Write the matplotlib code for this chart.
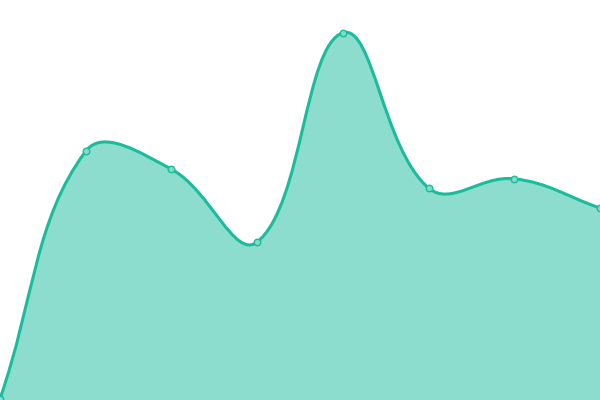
import numpy as np
import matplotlib
matplotlib.use("Agg")
import matplotlib.pyplot as plt
from matplotlib.path import Path
from matplotlib.patches import PathPatch

# data
labels = ["A", "B", "C", "D", "E", "F", "G", "H"]
values = [0.3, 62.2, 57.7, 39.5, 91.8, 53.0, 55.3, 48.0]

line_color = "#1abc9c"
fill_color = (26 / 255, 188 / 255, 156 / 255, 0.5)
tension = 0.4


def spline_controls(pts, t):
    # chart.js style cardinal spline control points (in pixels)
    n = len(pts)
    prev_c = []
    next_c = []
    for i in range(n):
        cur = pts[i]
        prv = pts[i - 1] if i > 0 else cur
        nxt = pts[i + 1] if i < n - 1 else cur
        d01 = np.hypot(*(cur - prv))
        d12 = np.hypot(*(nxt - cur))
        tot = d01 + d12
        s01 = d01 / tot if tot else 0
        s12 = d12 / tot if tot else 0
        fa = t * s01
        fb = t * s12
        prev_c.append(cur - fa * (nxt - prv))
        next_c.append(cur + fb * (nxt - prv))
    return prev_c, next_c


fig = plt.figure(figsize=(6, 4), dpi=100)
ax = fig.add_axes([0, 0, 1, 1])
x = np.arange(len(values))
ax.set_xlim(0, len(values) - 1)
ax.set_ylim(0, 100)
ax.axis("off")

pix = ax.transData.transform(np.column_stack([x, values]))
pc, nc = spline_controls(pix, tension)
# keep control points inside the chart area
bbox = ax.bbox
pc = [np.clip(p, [bbox.x0, bbox.y0], [bbox.x1, bbox.y1]) for p in pc]
nc = [np.clip(p, [bbox.x0, bbox.y0], [bbox.x1, bbox.y1]) for p in nc]

verts = [pix[0]]
codes = [Path.MOVETO]
for i in range(1, len(pix)):
    verts += [nc[i - 1], pc[i], pix[i]]
    codes += [Path.CURVE4] * 3
inv = ax.transData.inverted()
line_verts = inv.transform(np.array(verts))

fill_verts = np.vstack([line_verts, [[x[-1], 0], [x[0], 0], line_verts[0]]])
fill_codes = codes + [Path.LINETO, Path.LINETO, Path.CLOSEPOLY]

ax.add_patch(PathPatch(Path(fill_verts, fill_codes), facecolor=fill_color,
                       edgecolor="none", clip_on=False))
ax.add_patch(PathPatch(Path(line_verts, codes), facecolor="none",
                       edgecolor=line_color, linewidth=2.2, clip_on=False))
ax.scatter(x, values, s=22, facecolor="#7fdcc8", edgecolor=line_color,
           linewidth=1, zorder=5, clip_on=False)

fig.savefig("out.png", dpi=100)
